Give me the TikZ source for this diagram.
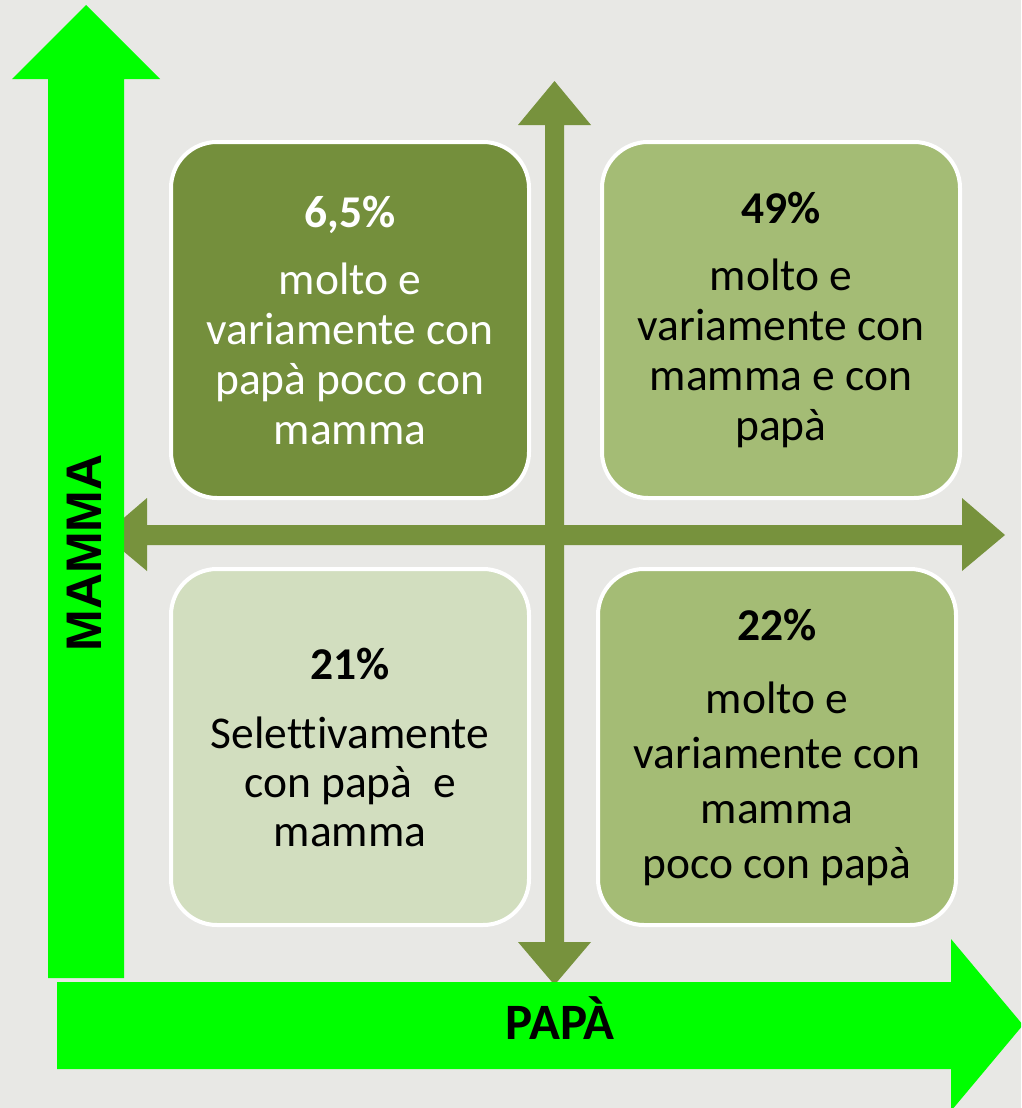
\documentclass[tikz,border=0pt]{standalone}
\usepackage{fontspec}
\setmainfont[Ligatures=NoCommon]{Carlito}
\newfontfamily\axisfont{Liberation Sans}
\usepackage{tikz}
\usetikzlibrary{positioning}

\definecolor{bgGray}{HTML}{E8E8E5}
\definecolor{oliveAx}{HTML}{77923D}
\definecolor{oliveDark}{HTML}{748F3C}
\definecolor{oliveMid}{HTML}{A4BC75}
\definecolor{oliveLight}{HTML}{D2DEBF}
\definecolor{neonGreen}{HTML}{00FF00}

\begin{document}
\begin{tikzpicture}[x=1pt, y=-1pt,
  quad/.style={draw=white, line width=4pt, rounded corners=46pt, minimum width=358pt, minimum height=356pt, align=center, font=\fontsize{45.5}{50}\selectfont},
  axis/.style={fill=oliveAx},
  bigaxis/.style={fill=neonGreen},
  axislabel/.style={inner sep=0pt, anchor=base},
]
\useasboundingbox (0,0) rectangle (1021,1108);
\clip (0,0) rectangle (1021,1108);
\fill[bgGray] (0,0) rectangle (1021,1108);

% olive cross
\fill[axis] (545,125) -- (518,125) -- (554.5,81) -- (591,125) -- (564,125) -- (564,942) -- (591,942)
  -- (554.5,985) -- (518,942) -- (545,942) -- cycle;
\fill[axis] (147,525) -- (962,525) -- (962,498) -- (1005,535) -- (962,571) -- (962,545) -- (147,545)
  -- (147,571) -- (104,535) -- (147,498) -- cycle;

% quadrants
\node[quad, fill=oliveDark, text=white] (tl) at (350,320) {\textbf{6,5\%}\\[17pt] molto e\\ variamente con\\ papà poco con\\ mamma};
\node[quad, fill=oliveMid] (tr) at (781,320) {\textbf{49\%}\\[17pt] molto e\\ variamente con\\ mamma e con\\ papà};
\node[quad, fill=oliveLight, font=\fontsize{45.5}{49}\selectfont] (bl) at (350,747) {\textbf{21\%}\\[20pt] Selettivamente\\ con papà\ \ e\\ mamma};
\node[quad, fill=oliveMid, font=\fontsize{45.5}{55}\selectfont] (br) at (777,747) {\textbf{22\%}\\[18pt] molto e\\ variamente con\\ mamma\\ poco con papà};

% green axes
\fill[bigaxis] (48,978) -- (48,79) -- (12,79) -- (86,5) -- (160,79) -- (124,79) -- (124,978) -- cycle;
\fill[bigaxis] (57,982) -- (951,982) -- (951,939) -- (1023,1025) -- (951,1111) -- (951,1069) -- (57,1069) -- cycle;

\node[axislabel, font=\axisfont\bfseries\fontsize{50}{60}\selectfont, rotate=90] (mamma) at (101,553) {MAMMA};
\node[axislabel, font=\bfseries\fontsize{51}{60}\selectfont] (papa) at (560,1039) {PAPÀ};
\end{tikzpicture}
\end{document}
